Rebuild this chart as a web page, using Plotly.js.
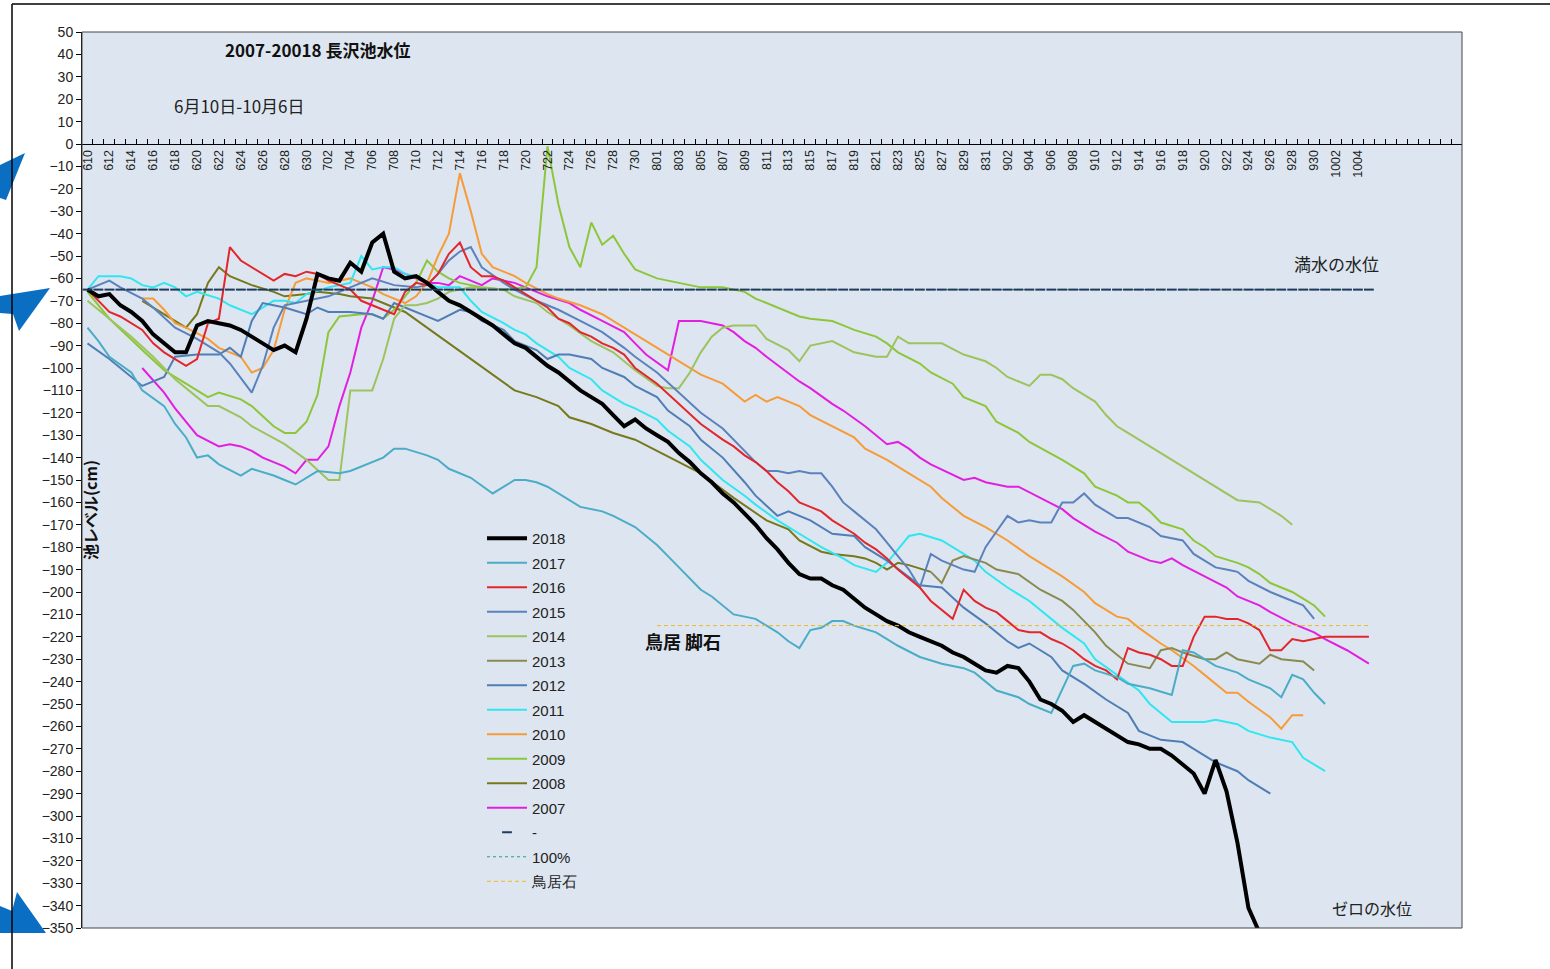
<!DOCTYPE html>
<html><head><meta charset="utf-8">
<script src="https://cdn.plot.ly/plotly-3.0.1.min.js"></script>
<style>html,body{margin:0;padding:0;background:#fff;overflow:hidden}#chart{width:1550px;height:969px}</style>
</head><body><div id="chart"></div>
<script>
// ---- categories (calendar days, "MDD") ----
const monthSpans = [[6,10,30],[7,1,31],[8,1,31],[9,1,30],[10,1,13]];
const days = [];
monthSpans.forEach(([m,a,b])=>{for(let d=a;d<=b;d++) days.push(String(m)+String(d).padStart(2,'0'));});
const lastLabel = '1004';
const tickText = days.map((d,i)=> (i%2===0 && i<=days.indexOf(lastLabel)) ? d : '');

// ---- reference levels ----
const fullLevel = -65;           // 満水の水位
const fullSpan = ['610','1005'];
const fullDays = days.slice(days.indexOf(fullSpan[0]), days.indexOf(fullSpan[1])+1);
const toriiLevel = -215;         // 鳥居石
const toriiSpan = ['801','1005'];

// ---- series: [day, level(cm)] ----
const s2018 = [['610',-65],['611',-68],['612',-67],['613',-72],['614',-75],['615',-79],['616',-85],['617',-89],['618',-93],['619',-93],['620',-81],['621',-79],['622',-80],['623',-81],['624',-83],['625',-86],['626',-89],['627',-92],['628',-90],['629',-93],['630',-78],['701',-58],['702',-60],['703',-61],['704',-53],['705',-57],['706',-44],['707',-40],['708',-57],['709',-60],['710',-59],['711',-62],['712',-66],['713',-70],['714',-72],['715',-75],['716',-78],['717',-81],['718',-85],['719',-89],['720',-91],['721',-95],['722',-99],['723',-102],['724',-106],['725',-110],['726',-113],['727',-116],['728',-121],['729',-126],['730',-123],['731',-127],['801',-130],['802',-133],['803',-138],['804',-142],['805',-147],['806',-151],['807',-156],['808',-160],['809',-165],['810',-170],['811',-176],['812',-181],['813',-187],['814',-192],['815',-194],['816',-194],['817',-197],['818',-199],['819',-203],['820',-207],['821',-210],['822',-213],['823',-215],['824',-218],['825',-220],['826',-222],['827',-224],['828',-227],['829',-229],['830',-232],['831',-235],['901',-236],['902',-233],['903',-234],['904',-240],['905',-248],['906',-250],['907',-253],['908',-258],['909',-255],['910',-258],['911',-261],['912',-264],['913',-267],['914',-268],['915',-270],['916',-270],['917',-273],['918',-277],['919',-281],['920',-290],['921',-275],['922',-289],['923',-312],['924',-341],['925',-352]];
const s2017 = [['610',-82],['611',-88],['612',-95],['614',-102],['615',-110],['617',-117],['618',-125],['619',-131],['620',-140],['621',-139],['622',-143],['624',-148],['625',-145],['627',-148],['628',-150],['629',-152],['701',-146],['703',-147],['704',-146],['705',-144],['706',-142],['707',-140],['708',-136],['709',-136],['711',-139],['712',-141],['713',-145],['715',-149],['717',-156],['718',-153],['719',-150],['720',-150],['721',-151],['722',-153],['723',-156],['724',-159],['725',-162],['727',-164],['728',-166],['730',-171],['731',-175],['801',-179],['802',-184],['803',-189],['804',-194],['805',-199],['806',-202],['807',-206],['808',-210],['810',-212],['811',-215],['812',-218],['813',-222],['814',-225],['815',-217],['816',-216],['817',-213],['818',-213],['819',-215],['821',-218],['823',-224],['825',-229],['827',-232],['829',-234],['830',-236],['831',-240],['901',-244],['903',-247],['904',-250],['906',-254],['908',-233],['909',-232],['910',-235],['912',-238],['913',-241],['915',-243],['917',-246],['918',-226],['919',-227],['920',-230],['921',-233],['923',-236],['924',-239],['926',-243],['927',-247],['928',-237],['929',-239],['930',-245],['1001',-250]];
const s2016 = [['610',-65],['611',-70],['612',-75],['613',-77],['615',-83],['616',-89],['617',-93],['618',-96],['619',-99],['620',-96],['621',-80],['622',-78],['623',-46],['624',-52],['625',-55],['626',-58],['627',-61],['628',-58],['629',-59],['630',-57],['701',-58],['702',-61],['703',-63],['704',-65],['705',-70],['707',-74],['708',-76],['709',-66],['710',-62],['711',-63],['712',-58],['713',-49],['714',-44],['715',-55],['716',-59],['717',-59],['718',-61],['719',-64],['720',-67],['721',-70],['722',-73],['723',-78],['724',-80],['725',-84],['726',-86],['727',-89],['728',-91],['729',-94],['730',-100],['801',-107],['803',-116],['805',-125],['807',-132],['808',-135],['809',-139],['810',-142],['811',-146],['812',-151],['813',-155],['814',-160],['815',-162],['816',-164],['817',-168],['818',-171],['819',-174],['820',-178],['821',-181],['822',-185],['823',-190],['824',-194],['825',-198],['826',-204],['827',-208],['828',-212],['829',-199],['830',-204],['831',-207],['901',-209],['902',-213],['903',-217],['904',-218],['905',-218],['906',-221],['907',-223],['908',-226],['909',-230],['910',-233],['911',-235],['912',-239],['913',-225],['914',-227],['915',-228],['916',-230],['917',-233],['918',-233],['919',-220],['920',-211],['921',-211],['922',-212],['923',-212],['924',-214],['925',-217],['926',-226],['927',-226],['928',-221],['929',-222],['930',-221],['1001',-220],['1005',-220]];
const s2015 = [['610',-65],['612',-61],['613',-64],['615',-69],['616',-73],['618',-82],['620',-87],['622',-93],['623',-98],['625',-111],['626',-99],['627',-82],['628',-72],['629',-71],['630',-70],['702',-68],['704',-64],['706',-60],['708',-63],['710',-64],['711',-63],['712',-58],['713',-52],['714',-48],['715',-46],['716',-55],['718',-62],['719',-65],['721',-70],['723',-74],['725',-79],['727',-84],['729',-91],['730',-95],['801',-102],['803',-111],['805',-120],['807',-127],['808',-132],['809',-137],['810',-142],['811',-146],['812',-146],['813',-147],['814',-146],['815',-147],['816',-147],['817',-153],['818',-160],['819',-164],['820',-168],['821',-172],['822',-178],['823',-184],['824',-190],['825',-198],['826',-183],['827',-186],['828',-188],['829',-190],['830',-191],['831',-180],['901',-173],['902',-166],['903',-169],['904',-168],['905',-169],['906',-169],['907',-160],['908',-160],['909',-156],['910',-161],['911',-164],['912',-167],['913',-167],['915',-171],['916',-175],['918',-177],['919',-183],['921',-189],['922',-190],['923',-191],['924',-195],['926',-200],['927',-202],['929',-206],['930',-212]];
const s2014 = [['610',-70],['612',-78],['614',-86],['616',-95],['618',-105],['620',-113],['621',-117],['622',-117],['624',-122],['625',-126],['628',-134],['630',-141],['702',-150],['703',-150],['704',-110],['706',-110],['707',-96],['708',-78],['709',-72],['710',-72],['711',-71],['712',-69],['713',-66],['715',-64],['718',-65],['719',-68],['721',-71],['722',-75],['724',-81],['726',-88],['728',-93],['730',-101],['801',-108],['802',-109],['803',-109],['804',-102],['805',-93],['806',-86],['807',-82],['808',-81],['810',-81],['811',-87],['813',-92],['814',-97],['815',-90],['817',-88],['819',-93],['821',-95],['822',-95],['823',-86],['824',-89],['827',-89],['829',-94],['831',-97],['901',-100],['902',-104],['904',-108],['905',-103],['906',-103],['907',-105],['908',-109],['909',-112],['910',-115],['911',-121],['912',-126],['913',-129],['914',-132],['916',-138],['918',-144],['920',-150],['922',-156],['923',-159],['925',-160],['926',-163],['927',-166],['928',-170]];
const s2013 = [['826',-191],['827',-196],['828',-186],['829',-184],['831',-187],['901',-190],['903',-192],['905',-199],['907',-204],['908',-208],['909',-213],['910',-218],['911',-224],['912',-228],['913',-232],['915',-234],['916',-226],['917',-225],['918',-227],['920',-230],['921',-230],['922',-227],['923',-230],['925',-232],['926',-228],['927',-230],['929',-231],['930',-235]];
const s2012 = [['610',-89],['612',-96],['615',-108],['617',-104],['618',-95],['620',-94],['622',-94],['623',-91],['624',-95],['625',-79],['626',-71],['628',-73],['630',-76],['701',-73],['702',-75],['704',-75],['706',-76],['707',-78],['708',-71],['710',-75],['711',-77],['712',-79],['714',-74],['715',-75],['716',-79],['718',-83],['719',-88],['721',-92],['722',-96],['723',-94],['724',-94],['726',-96],['727',-100],['728',-102],['729',-104],['730',-108],['801',-113],['802',-119],['804',-126],['805',-132],['807',-140],['809',-151],['810',-157],['812',-166],['813',-164],['815',-168],['817',-174],['819',-175],['820',-180],['822',-186],['825',-197],['827',-198],['829',-207],['831',-214],['902',-222],['903',-225],['904',-223],['906',-229],['907',-235],['909',-241],['911',-248],['913',-254],['914',-262],['916',-266],['918',-267],['919',-270],['921',-276],['923',-280],['924',-284],['926',-290]];
const s2011 = [['610',-65],['611',-59],['613',-59],['614',-60],['615',-63],['616',-64],['617',-62],['618',-64],['619',-68],['620',-66],['622',-69],['623',-72],['625',-76],['626',-73],['627',-70],['628',-70],['629',-71],['630',-67],['702',-64],['704',-62],['705',-50],['706',-56],['707',-55],['708',-55],['709',-58],['710',-59],['711',-62],['712',-64],['713',-64],['714',-64],['715',-70],['716',-75],['718',-80],['719',-83],['720',-85],['721',-89],['723',-95],['724',-100],['726',-105],['727',-110],['729',-116],['730',-118],['801',-123],['802',-128],['804',-135],['805',-141],['807',-150],['809',-157],['810',-161],['812',-168],['814',-174],['816',-180],['818',-185],['819',-188],['821',-191],['822',-187],['823',-181],['824',-175],['825',-174],['827',-177],['828',-180],['830',-186],['831',-191],['902',-198],['904',-204],['905',-208],['907',-216],['909',-223],['910',-230],['912',-237],['914',-244],['915',-250],['917',-258],['920',-258],['921',-257],['923',-259],['924',-262],['926',-265],['928',-267],['929',-274],['1001',-280]];
const s2010 = [['615',-69],['616',-69],['617',-74],['618',-80],['619',-82],['621',-87],['622',-91],['624',-95],['625',-102],['626',-100],['627',-92],['628',-74],['629',-62],['630',-60],['701',-61],['702',-62],['704',-60],['705',-62],['706',-64],['707',-67],['708',-69],['709',-71],['710',-68],['711',-62],['712',-50],['713',-40],['714',-13],['715',-30],['716',-49],['717',-55],['719',-59],['720',-62],['722',-67],['723',-69],['725',-72],['727',-76],['729',-82],['731',-88],['802',-94],['804',-100],['805',-103],['807',-107],['808',-111],['809',-115],['810',-112],['811',-115],['812',-113],['814',-117],['815',-121],['817',-126],['819',-131],['820',-136],['822',-141],['824',-147],['826',-153],['827',-158],['829',-166],['831',-171],['902',-177],['904',-184],['906',-190],['907',-193],['909',-200],['910',-205],['912',-211],['913',-212],['914',-216],['916',-223],['917',-226],['919',-233],['920',-237],['922',-245],['923',-245],['924',-249],['926',-256],['927',-261],['928',-255],['929',-255]];
const s2009 = [['610',-66],['612',-78],['615',-92],['617',-101],['619',-107],['621',-113],['622',-111],['624',-114],['625',-117],['627',-126],['628',-129],['629',-129],['630',-124],['701',-112],['702',-84],['703',-77],['705',-76],['706',-76],['707',-78],['708',-74],['709',-68],['710',-62],['711',-52],['712',-57],['713',-60],['714',-62],['716',-64],['718',-65],['720',-64],['721',-55],['722',-1],['723',-27],['724',-46],['725',-55],['726',-35],['727',-45],['728',-41],['729',-49],['730',-56],['731',-58],['801',-60],['802',-61],['803',-62],['804',-63],['805',-64],['807',-64],['808',-65],['809',-66],['810',-69],['812',-73],['814',-77],['815',-78],['817',-79],['818',-81],['819',-83],['821',-86],['822',-89],['823',-93],['825',-98],['826',-102],['828',-107],['829',-113],['831',-117],['901',-124],['903',-129],['904',-133],['907',-141],['909',-147],['910',-153],['912',-157],['913',-160],['914',-160],['915',-164],['916',-169],['918',-172],['919',-177],['920',-180],['921',-184],['923',-187],['924',-189],['925',-192],['926',-196],['928',-200],['929',-203],['930',-206],['1001',-211]];
const s2008 = [['615',-70],['617',-76],['619',-82],['620',-76],['621',-62],['622',-55],['623',-59],['625',-63],['627',-66],['628',-68],['630',-67],['701',-66],['703',-67],['704',-68],['706',-69],['707',-71],['709',-75],['711',-82],['713',-89],['715',-96],['717',-103],['719',-110],['721',-113],['723',-117],['724',-122],['726',-125],['728',-129],['730',-132],['801',-137],['803',-142],['805',-147],['808',-158],['811',-168],['813',-172],['814',-177],['816',-182],['817',-183],['819',-184],['820',-185],['821',-187],['822',-190],['823',-187],['824',-188],['826',-191]];
const s2007 = [['615',-100],['617',-111],['618',-118],['619',-124],['620',-130],['622',-135],['623',-134],['624',-135],['625',-137],['626',-140],['627',-142],['628',-144],['629',-147],['630',-141],['701',-141],['702',-135],['703',-117],['704',-102],['705',-82],['706',-70],['707',-55],['708',-56],['709',-58],['710',-60],['711',-62],['712',-62],['713',-63],['714',-59],['715',-61],['716',-63],['717',-60],['719',-62],['720',-64],['721',-66],['722',-68],['724',-71],['725',-74],['727',-79],['729',-84],['730',-89],['731',-94],['802',-101],['803',-79],['805',-79],['807',-81],['808',-84],['809',-88],['810',-91],['811',-95],['814',-106],['815',-109],['817',-116],['818',-119],['820',-126],['822',-134],['823',-133],['824',-136],['825',-140],['826',-143],['829',-150],['830',-149],['831',-151],['902',-153],['903',-153],['905',-158],['907',-163],['908',-167],['910',-173],['912',-178],['913',-182],['915',-186],['916',-187],['917',-185],['918',-188],['920',-193],['922',-198],['923',-202],['925',-206],['926',-209],['928',-214],['930',-218],['1001',-221],['1003',-226],['1005',-232]];

const seriesNames = ['2018','2017','2016','2015','2014','2013','2012','2011','2010','2009','2008','2007'];
const seriesData  = [s2018,s2017,s2016,s2015,s2014,s2013,s2012,s2011,s2010,s2009,s2008,s2007];
const seriesColor = ['#000000','#4bacc6','#e3262b','#5b82bd','#9dc35e','#8a8a50','#4f7db5','#30e6f0','#f79b38','#8dc63a','#77781c','#e21fe0'];
const seriesWidth = [4,2,2,2,2,2,2,2,2,2,2,2];

const traces = [];
for (let k = seriesNames.length-1; k >= 0; k--) {
  const d = seriesData[k];
  traces.push({type:'scatter', mode:'lines', name:seriesNames[k], legendgroup:seriesNames[k], legendrank:k+1,
    x:d.map(p=>p[0]), y:d.map(p=>p[1]), line:{color:seriesColor[k], width:seriesWidth[k]}, hoverinfo:'skip'});
}
traces.push({type:'scatter', mode:'lines', name:'100%', legendgroup:'g100', legendrank:14,
  x:fullSpan, y:fullSpan.map(()=>fullLevel), line:{color:'#2ba27c', width:1, dash:'3px,3px'}, hoverinfo:'skip'});
traces.push({type:'scatter', mode:'markers', name:'-', legendgroup:'gdash', legendrank:13,
  x:fullDays, y:fullDays.map(()=>fullLevel),
  marker:{symbol:'line-ew', size:7, color:'#1f3a5c', line:{color:'#1f3a5c', width:2}}, hoverinfo:'skip'});
traces.push({type:'scatter', mode:'lines', name:'鳥居石', legendgroup:'gtorii', legendrank:15,
  x:toriiSpan, y:toriiSpan.map(()=>toriiLevel), line:{color:'#f0b820', width:1, dash:'4px,3px'}, hoverinfo:'skip'});

// pixel -> paper helpers for decorations
const L=82, R=1462, T=32, B=928;
const px = x => (x-L)/(R-L);
const py = y => (B-y)/(B-T);
const pathOf = pts => 'M' + pts.map(p=>px(p[0]).toFixed(5)+','+py(p[1]).toFixed(5)).join(' L') + ' Z';

const arrows = [
  [[25,153],[0,165],[0,198],[6,200]],
  [[50,288],[0,296],[0,313],[13,314],[19,331]],
  [[46,933],[17,892],[12,911],[0,906],[0,933]]
];
const shapes = arrows.map(a=>({type:'path', xref:'paper', yref:'paper', path:pathOf(a), fillcolor:'#0a6fc2', line:{width:0}, layer:'above'}));
shapes.push({type:'rect', xref:'paper', yref:'paper', x0:0, x1:1, y0:0, y1:1, line:{color:'#444', width:1}, layer:'above'});
shapes.push({type:'line', xref:'paper', yref:'paper', x0:px(12), x1:px(1550), y0:py(4), y1:py(4), line:{color:'#000', width:1.5}});
shapes.push({type:'line', xref:'paper', yref:'paper', x0:px(12), x1:px(12), y0:py(4), y1:py(969), line:{color:'#000', width:1.5}});

const jp = '"Noto Sans CJK JP", "Noto Sans", sans-serif';
const annotations = [
  {text:'<b>2007-20018 長沢池水位</b>', x:px(223), y:py(50), xanchor:'left', yanchor:'middle', font:{family:jp, size:17, color:'#111'}},
  {text:'6月10日-10月6日', x:px(172), y:py(106), xanchor:'left', yanchor:'middle', font:{family:jp, size:17, color:'#222'}},
  {text:'満水の水位', x:px(1292), y:py(263), xanchor:'left', yanchor:'middle', font:{family:jp, size:17, color:'#222'}},
  {text:'<b>鳥居 脚石</b>', x:px(643), y:py(641), xanchor:'left', yanchor:'middle', font:{family:jp, size:18, color:'#111'}},
  {text:'ゼロの水位', x:px(1330), y:py(908), xanchor:'left', yanchor:'middle', font:{family:jp, size:16, color:'#222'}},
  {text:'<b>池レベル(cm)</b>', textangle:-90, x:px(90), y:py(510), xanchor:'center', yanchor:'middle', font:{family:jp, size:16, color:'#111'}}
].map(a=>Object.assign({xref:'paper', yref:'paper', showarrow:false}, a));

const layout = {
  width:1550, height:969,
  margin:{l:L, r:1550-R, t:T, b:969-B, pad:0},
  paper_bgcolor:'#ffffff', plot_bgcolor:'#dde6f0',
  showlegend:true,
  legend:{x:px(482), y:py(522), xanchor:'left', yanchor:'top', bgcolor:'rgba(0,0,0,0)', borderwidth:0, itemwidth:40,
    font:{family:'"Liberation Sans", Arial, sans-serif', size:15, color:'#222'}, tracegroupgap:2, traceorder:'grouped'},
  xaxis:{type:'category', categoryorder:'array', categoryarray:days, range:[-0.5, days.length-0.5],
    anchor:'free', position:0.875, side:'bottom',
    tickmode:'array', tickvals:days, ticktext:tickText, tickson:'boundaries',
    ticks:'inside', ticklen:5, tickwidth:1, tickcolor:'#000', tickangle:-90,
    tickfont:{family:'"Liberation Sans", Arial, sans-serif', size:12.5, color:'#222'},
    showline:true, linecolor:'#000', linewidth:1, showgrid:false, zeroline:false, fixedrange:true},
  yaxis:{range:[-350,50], tickmode:'linear', tick0:0, dtick:10, ticks:'outside', ticklen:5, tickcolor:'#000',
    tickfont:{family:'"Liberation Sans", Arial, sans-serif', size:14, color:'#222'},
    showline:true, linecolor:'#000', linewidth:1, showgrid:false, zeroline:false, fixedrange:true},
  shapes, annotations
};
Plotly.newPlot('chart', traces, layout, {staticPlot:true, displayModeBar:false});
</script></body></html>
